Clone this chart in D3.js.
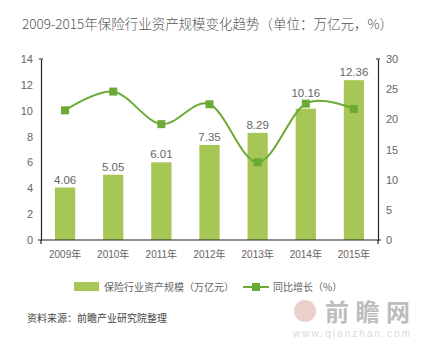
<!DOCTYPE html>
<html>
<head>
<meta charset="utf-8">
<script src="https://cdn.jsdelivr.net/npm/d3@7"></script>
<style>
  body { margin: 0; background: #fff; }
  svg text { font-family: "Liberation Sans", Arial, "Noto Sans CJK SC", sans-serif; }
</style>
</head>
<body>
<svg></svg>
<script>
// chart data
var years = ["2009年", "2010年", "2011年", "2012年", "2013年", "2014年", "2015年"];
var assets = [4.06, 5.05, 6.01, 7.35, 8.29, 10.16, 12.36];
var growth = [21.5, 24.6, 19.2, 22.5, 12.9, 22.6, 21.7];
var leftTicks = [0, 2, 4, 6, 8, 10, 12, 14];
var rightTicks = [0, 5, 10, 15, 20, 25, 30];

var width = 441, height = 349;
var plotLeft = 41, plotRight = 378, plotTop = 59, plotBottom = 240;
var barColor = "#a6c655", lineColor = "#6aaa35", textColor = "#666";
var cjk = '"Noto Sans CJK SC", sans-serif';

var svg = d3.select("svg").attr("width", width).attr("height", height);

var x = d3.scaleBand().domain(years).range([plotLeft, plotRight]).paddingInner(0.58).paddingOuter(0.29);
var yL = d3.scaleLinear().domain([0, 14]).range([plotBottom, plotTop]);
var yR = d3.scaleLinear().domain([0, 30]).range([plotBottom, plotTop]);
var cx = i => x(years[i]) + x.bandwidth() / 2;

// title
svg.append("text")
    .attr("x", 22).attr("y", 29)
    .attr("font-size", 13.5).attr("fill", "#555")
    .attr("font-weight", 300)
    .attr("textLength", 371).attr("lengthAdjust", "spacing")
    .style("font-family", cjk)
    .text("2009-2015年保险行业资产规模变化趋势（单位：万亿元，%）");

// bars
svg.selectAll(".bar")
    .data(assets)
    .enter().append("rect")
    .attr("x", (d, i) => x(years[i]))
    .attr("y", d => yL(d))
    .attr("width", x.bandwidth())
    .attr("height", d => plotBottom - yL(d))
    .attr("fill", barColor);

// bar labels (lifted above the marker when they would collide)
svg.selectAll(".blabel")
    .data(assets)
    .enter().append("text")
    .attr("x", (d, i) => cx(i))
    .attr("y", function(d, i) {
        var base = yL(d) - 4;
        var my = yR(growth[i]);
        if (my > yL(d) - 16 && my < yL(d) + 6) base = Math.min(base, my - 7);
        return base;
    })
    .attr("text-anchor", "middle")
    .attr("font-size", 11.5).attr("fill", textColor)
    .text(d => d.toFixed(2));

// growth line
var line = d3.line()
    .x((d, i) => cx(i))
    .y(d => yR(d))
    .curve(d3.curveCardinal);

svg.append("path")
    .attr("d", line(growth))
    .attr("fill", "none")
    .attr("stroke", lineColor)
    .attr("stroke-width", 2);

svg.selectAll(".marker")
    .data(growth)
    .enter().append("rect")
    .attr("x", (d, i) => cx(i) - 4)
    .attr("y", d => yR(d) - 4)
    .attr("width", 8).attr("height", 8)
    .attr("fill", lineColor);

// axes
var axL = svg.append("g")
    .attr("transform", `translate(${plotLeft},0)`)
    .call(d3.axisLeft(yL).tickValues(leftTicks).tickSize(0).tickPadding(8));
var axR = svg.append("g")
    .attr("transform", `translate(${plotRight},0)`)
    .call(d3.axisRight(yR).tickValues(rightTicks).tickSize(0).tickPadding(8));
var axB = svg.append("g")
    .attr("transform", `translate(0,${plotBottom})`)
    .call(d3.axisBottom(x).tickSize(0).tickPadding(11));

[axL, axR, axB].forEach(function(g) {
    g.select(".domain").attr("stroke", "#222").attr("stroke-width", 1.2);
    g.selectAll("text").attr("fill", textColor).attr("font-size", 11)
        .style("font-family", '"Liberation Sans", Arial, "Noto Sans CJK SC", sans-serif');
});
axB.selectAll("text").attr("font-size", 10);
axB.select(".domain").attr("d", `M${plotLeft - 3},0H${plotRight + 3}`);

// small end ticks
[plotLeft, plotRight].forEach(function(px) {
    svg.append("line").attr("x1", px).attr("x2", px)
        .attr("y1", plotBottom).attr("y2", plotBottom + 4)
        .attr("stroke", "#222").attr("stroke-width", 1.2);
    svg.append("line").attr("x1", px - 2).attr("x2", px + 2)
        .attr("y1", plotTop).attr("y2", plotTop)
        .attr("stroke", "#222").attr("stroke-width", 1);
});

// legend
var legend = svg.append("g");
legend.append("rect").attr("x", 74).attr("y", 282).attr("width", 25).attr("height", 9).attr("fill", barColor);
legend.append("text").attr("x", 104).attr("y", 290.5).attr("fill", textColor)
    .attr("font-size", 10).style("font-family", cjk)
    .text("保险行业资产规模（万亿元）");
legend.append("line").attr("x1", 243).attr("x2", 269).attr("y1", 287).attr("y2", 287)
    .attr("stroke", lineColor).attr("stroke-width", 2);
legend.append("rect").attr("x", 252).attr("y", 283).attr("width", 8).attr("height", 8).attr("fill", lineColor);
legend.append("text").attr("x", 273).attr("y", 290.5).attr("fill", textColor)
    .attr("font-size", 10).style("font-family", cjk)
    .text("同比增长（%）");

// source
svg.append("text")
    .attr("x", 27).attr("y", 321.5)
    .attr("font-size", 10).attr("fill", "#444")
    .style("font-family", cjk)
    .text("资料来源：前瞻产业研究院整理");

// watermark
var wm = svg.append("g").attr("opacity", 0.55);
wm.append("circle").attr("cx", 305).attr("cy", 311).attr("r", 11).attr("fill", "#d9a9a0");
wm.append("text").attr("x", 325).attr("y", 321)
    .attr("font-size", 24).attr("font-weight", "bold").attr("fill", "#888")
    .attr("textLength", 85).attr("lengthAdjust", "spacing")
    .text("前瞻网");
wm.append("text").attr("x", 293).attr("y", 337)
    .attr("font-size", 10).attr("fill", "#bbb")
    .attr("textLength", 117).attr("lengthAdjust", "spacing")
    .text("www.qianzhan.com");
</script>
</body>
</html>
